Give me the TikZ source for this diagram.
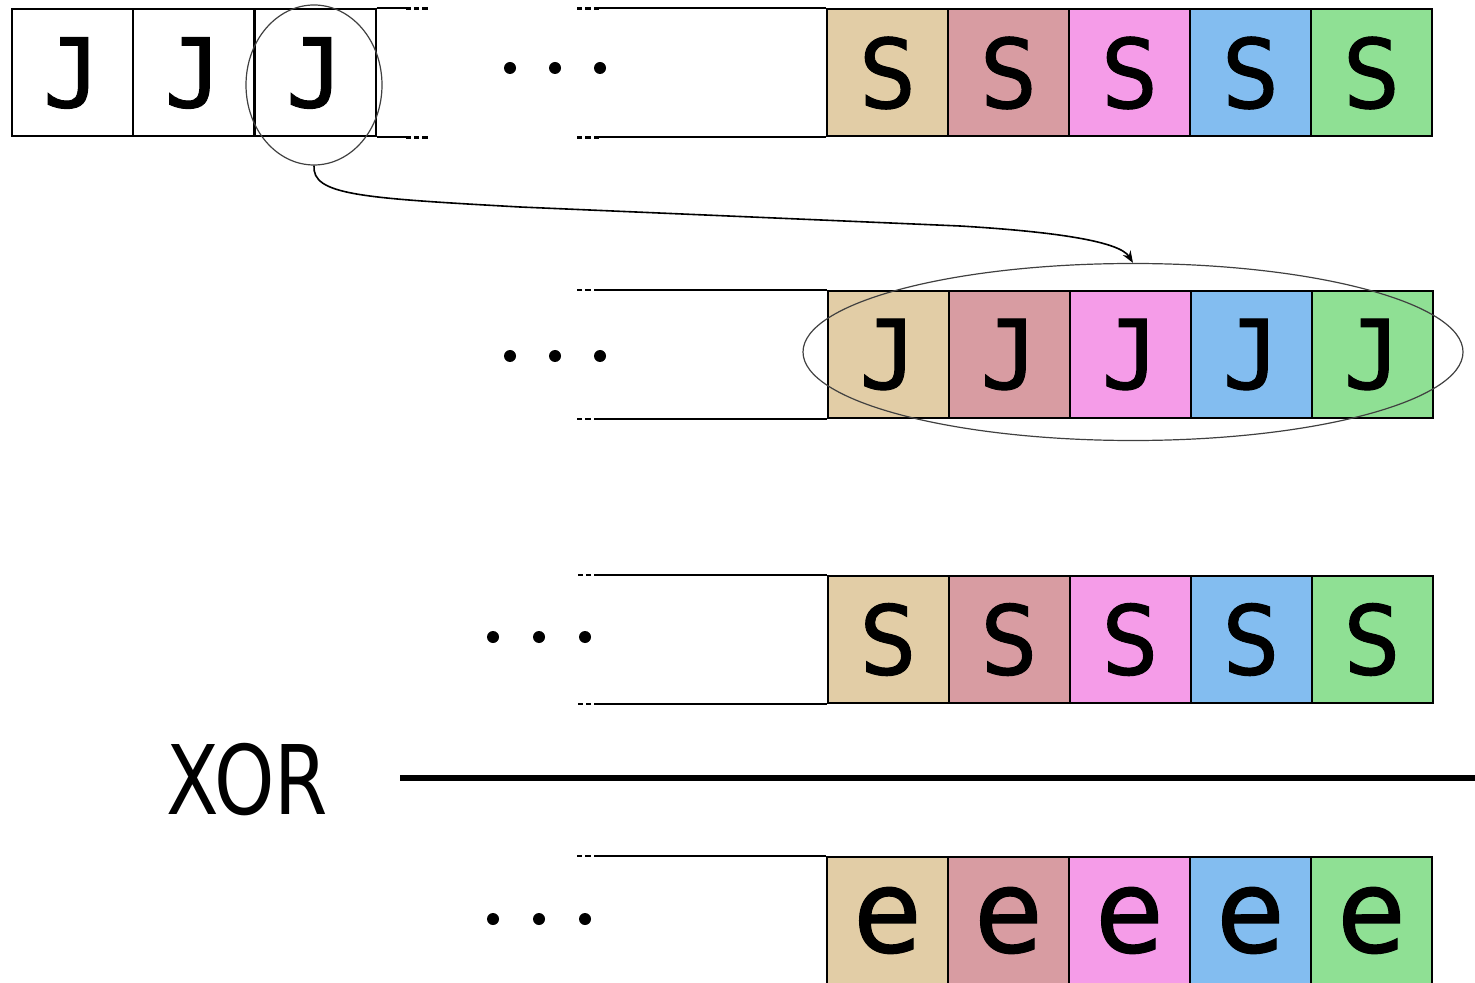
\documentclass[tikz,border=0pt]{standalone}
\usepackage{fontspec}
\setmainfont{DejaVu Sans}
\newfontfamily\cellfont[FakeBold=1]{DejaVu Sans Mono}
\usetikzlibrary{shapes.geometric,arrows.meta}
\definecolor{cTan}{HTML}{E2CDA6}
\definecolor{cRose}{HTML}{D89CA2}
\definecolor{cPink}{HTML}{F59CE8}
\definecolor{cBlue}{HTML}{83BDF0}
\definecolor{cGreen}{HTML}{8FE094}
\begin{document}
\begin{tikzpicture}[x=0.5pt,y=-0.5pt,
  cell/.style={draw,line width=1pt,minimum width=60.5pt,minimum height=63.5pt,
    inner sep=0pt,font=\cellfont\fontsize{48}{48}\selectfont},
  ecell/.style={cell,font=\cellfont\fontsize{58}{58}\selectfont},
  strip/.style={line width=1pt},
  tail/.style={line width=1.3pt,dash pattern=on 2.6pt off 1.6pt},
  dot/.style={circle,fill=black,inner sep=0pt,minimum size=6pt},
  ring/.style={ellipse,draw=black!75,line width=0.6pt,inner sep=0pt}]
\useasboundingbox (0,0) rectangle (1475,983);

% ---- row 1: plain J cells on the left, coloured S cells on the right
\foreach \i in {0,1,2}
  \node[cell] (l\i) at (72+121.5*\i,73) {J};
\draw[strip] (l2.north east) -- ++(29,0) coordinate (la);
\draw[tail] (la) -- ++(23,0);
\draw[strip] (l2.south east) -- ++(29,0) coordinate (lb);
\draw[tail] (lb) -- ++(23,0);
\foreach \c [count=\i from 0] in {cTan,cRose,cPink,cBlue,cGreen}
  \node[cell,fill=\c] (a\i) at (887.5+121*\i,73) {S};
\draw[strip] (a0.north west) -- ++(-227,0) coordinate (aa);
\draw[tail] (aa) -- ++(-22,0);
\draw[strip] (a0.south west) -- ++(-227,0) coordinate (ab);
\draw[tail] (ab) -- ++(-22,0);
\foreach \x [count=\i] in {510,555,600}
  \node[dot] (ad\i) at (\x,68) {};

% ---- row 2: J cells
\foreach \c [count=\i from 0] in {cTan,cRose,cPink,cBlue,cGreen}
  \node[cell,fill=\c] (b\i) at (888.5+121*\i,354.5) {J};
\draw[strip] (b0.north west) -- ++(-228,0) coordinate (ba);
\draw[tail] (ba) -- ++(-22,0);
\draw[strip] (b0.south west) -- ++(-228,0) coordinate (bb);
\draw[tail] (bb) -- ++(-22,0);
\foreach \x [count=\i] in {510,555,600}
  \node[dot] (bd\i) at (\x,356) {};

% ---- row 3: S cells
\foreach \c [count=\i from 0] in {cTan,cRose,cPink,cBlue,cGreen}
  \node[cell,fill=\c] (c\i) at (888+121*\i,639.5) {S};
\draw[strip] (c0.north west) -- ++(-227,0) coordinate (ca);
\draw[tail] (ca) -- ++(-22,0);
\draw[strip] (c0.south west) -- ++(-227,0) coordinate (cb);
\draw[tail] (cb) -- ++(-22,0);
\foreach \x [count=\i] in {493,539,585}
  \node[dot] (cd\i) at (\x,637) {};

% ---- XOR bar
\node[inner sep=0pt,font=\fontsize{48}{48}\selectfont] (xor) at (247,780) {\scalebox{0.8}[1]{XOR}};
\draw[line width=3pt] (400,778) coordinate (xa) -- (1475,778) coordinate (xb);

% ---- row 4: result cells
\foreach \c [count=\i from 0] in {cTan,cRose,cPink,cBlue,cGreen}
  \node[ecell,fill=\c] (d\i) at (887.5+121*\i,920.5) {e};
\draw[strip] (d0.north west) -- ++(-227,0) coordinate (da);
\draw[tail] (da) -- ++(-22,0);
\foreach \x [count=\i] in {493,539,585}
  \node[dot] (dd\i) at (\x,919) {};

% ---- highlight rings and the arrow joining them
\node[ring,minimum width=68pt,minimum height=80pt] (pick) at (314,85) {};
\node[ring,minimum width=330pt,minimum height=88.5pt] (spread) at (1133,352) {};
\draw[line width=0.8pt,-{Stealth[length=6pt,width=4.5pt]}]
  (pick.south) .. controls (312,195) and (360,198) .. (520,207)
  -- (960,226) .. controls (1060,232) and (1120,242) .. (spread.north);
\end{tikzpicture}
\end{document}
